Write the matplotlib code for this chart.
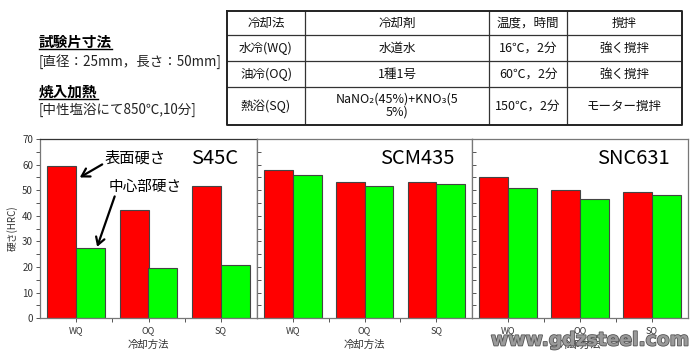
import matplotlib
matplotlib.use("Agg")
import matplotlib.pyplot as plt
import matplotlib.patheffects as pe
import numpy as np

plt.rcParams['font.family'] = ['Noto Sans CJK JP', 'DejaVu Sans']

# chart data
methods = ['WQ', 'OQ', 'SQ']
steels = ['S45C', 'SCM435', 'SNC631']
surface = [[59.6, 42.1, 51.6],
           [58.0, 53.4, 53.2],
           [55.1, 49.9, 49.3]]
core = [[27.6, 19.5, 20.8],
        [55.8, 51.7, 52.5],
        [50.8, 46.7, 48.3]]

# table data
tbl_header = ['冷却法', '冷却剤', '温度，時間', '撹拌']
tbl_rows = [['水冷(WQ)', '水道水', '16℃，2分', '強く撹拌'],
            ['油冷(OQ)', '1種1号', '60℃，2分', '強く撹拌'],
            ['熱浴(SQ)', 'NaNO₂(45%)+KNO₃(5\n5%)', '150℃，2分', 'モーター撹拌']]

fig = plt.figure(figsize=(7, 3.54), dpi=100)

# ---- bar panels
W, H = 700, 354
bottom = (H - 318.3) / H
height = (318.3 - 139) / H
lefts = [40, 257, 472]
rights = [257, 472, 688]
x = np.arange(len(methods))
bw = 0.4
axes = []
for i in range(3):
    ax = fig.add_axes([lefts[i] / W, bottom, (rights[i] - lefts[i]) / W, height])
    ax.bar(x - bw / 2, surface[i], bw, color='#ff0000', edgecolor='#444444', linewidth=0.8)
    ax.bar(x + bw / 2, core[i], bw, color='#00ff00', edgecolor='#444444', linewidth=0.8)
    ax.set_xlim(-0.5, 2.5)
    ax.set_ylim(0, 70)
    ax.set_yticks(range(0, 71, 10))
    ax.set_yticks(range(5, 70, 10), minor=True)
    ax.set_xticks(x)
    ax.set_xticks([0.5, 1.5], minor=True)
    ax.set_xticklabels(methods, fontsize=6.5, color='#333333')
    ax.tick_params(axis='x', which='both', length=3, width=0.7, color='#555555', pad=3)
    if i == 0:
        ax.tick_params(axis='y', which='both', direction='out', length=3, width=0.7,
                       color='#555555', labelsize=7, labelcolor='#333333', pad=2)
        ax.set_ylabel('硬さ(HRC)', fontsize=7, color='#333333', labelpad=3)
    else:
        ax.tick_params(axis='y', which='both', direction='in', length=3, width=0.7,
                       color='#555555', labelleft=False)
    ax.set_xlabel('冷却方法', fontsize=7.5, color='#333333', labelpad=3)
    for s in ax.spines.values():
        s.set_color('#777777')
        s.set_linewidth(0.9)
    if i == 0:
        ax.spines['top'].set_color('#333333')
        ax.spines['right'].set_color('#333333')
    ax.text(1.74 if i else 1.92, 62.3, steels[i], fontsize=14.5, ha='center', va='center')
    axes.append(ax)

# annotations on first panel
a0 = axes[0]
a0.annotate('表面硬さ', xy=(0.05, 55.0), xytext=(0.82, 62.7), fontsize=11,
            ha='center', va='center',
            arrowprops=dict(arrowstyle='->,head_length=0.5,head_width=0.3', lw=1.6,
                            color='black', shrinkA=0, shrinkB=0,
                            relpos=(0.0, 0.2)))
a0.annotate('中心部硬さ', xy=(0.29, 27.9), xytext=(0.95, 51.4), fontsize=10.5,
            ha='center', va='center',
            arrowprops=dict(arrowstyle='->,head_length=0.5,head_width=0.3', lw=1.6,
                            color='black', shrinkA=0, shrinkB=0,
                            relpos=(0.1, 0.0)))

# ---- table at top
tx0, tx1 = 227, 682
ty0, ty1 = 11, 125
ta = fig.add_axes([tx0 / W, (H - ty1) / H, (tx1 - tx0) / W, (ty1 - ty0) / H])
ta.set_xlim(tx0, tx1)
ta.set_ylim(ty1, ty0)
ta.axis('off')
col_edges = [227, 305, 489, 567, 682]
row_edges = [11, 35, 61, 87, 125]
for xe in col_edges[1:-1]:
    ta.plot([xe, xe], [row_edges[0], row_edges[-1]], color='#333333', lw=0.9)
for ye in row_edges[1:-1]:
    ta.plot([col_edges[0], col_edges[-1]], [ye, ye], color='#333333', lw=0.9)
ta.plot([col_edges[0], col_edges[-1], col_edges[-1], col_edges[0], col_edges[0]],
        [row_edges[0], row_edges[0], row_edges[-1], row_edges[-1], row_edges[0]],
        color='#222222', lw=1.4, clip_on=False)
for r, row in enumerate([tbl_header] + tbl_rows):
    yc = (row_edges[r] + row_edges[r + 1]) / 2
    for c, cell in enumerate(row):
        xc = (col_edges[c] + col_edges[c + 1]) / 2
        ta.text(xc, yc, cell, ha='center', va='center', fontsize=9,
                linespacing=1.0, color='#111111')

# ---- left notes
def underline(txt):
    fig.canvas.draw()
    bb = txt.get_window_extent()
    inv = fig.transFigure.inverted()
    (x0, y0), (x1, y1) = inv.transform([(bb.x0, bb.y0), (bb.x1, bb.y1)])
    fig.lines.append(plt.Line2D([x0, x1], [y0 + 0.004, y0 + 0.004], color='black',
                                lw=1.0, transform=fig.transFigure))

t1 = fig.text(39 / W, 1 - 42 / H, '試験片寸法', fontsize=10.5, fontweight='bold', va='center')
fig.text(39 / W, 1 - 62 / H, '[直径：25mm，長さ：50mm]', fontsize=9.7, va='center', color='#222222')
t2 = fig.text(39 / W, 1 - 92 / H, '焼入加熱', fontsize=10.5, fontweight='bold', va='center')
fig.text(39 / W, 1 - 110 / H, '[中性塩浴にて850℃,10分]', fontsize=9.7, va='center', color='#222222')
underline(t1)
underline(t2)

# watermark
fig.text(590 / W, 1 - 340 / H, 'www.gdzsteel.com', fontsize=13.5, fontweight='bold',
         family='DejaVu Sans', ha='center', va='center', color='#9a9a9a',
         path_effects=[pe.withStroke(linewidth=1.2, foreground='#555555')])

fig.savefig('out.png', dpi=100)
